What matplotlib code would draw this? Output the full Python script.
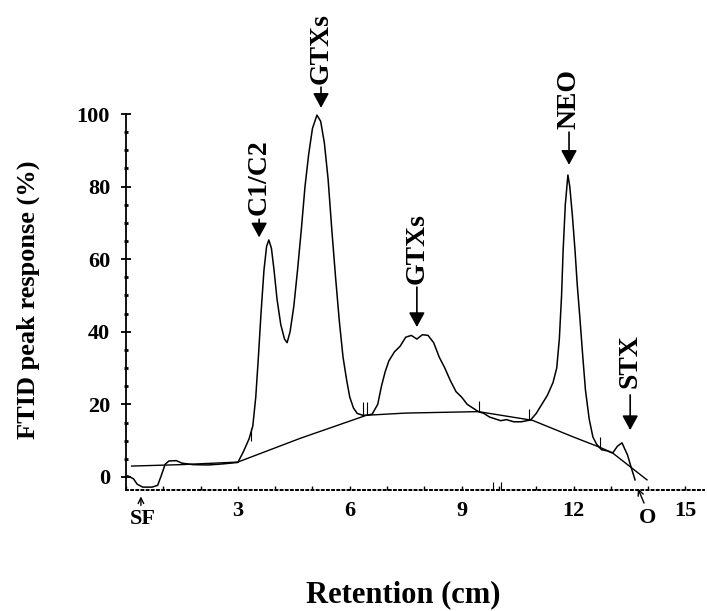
import matplotlib.pyplot as plt
from matplotlib.ticker import MultipleLocator

plt.rcParams['font.family'] = ['Liberation Serif', 'DejaVu Serif']
plt.rcParams['font.weight'] = 'bold'

# chromatogram trace (retention cm, % response)
trace_x = [0.05, 0.2, 0.3, 0.45, 0.7, 0.85, 0.95, 1.05, 1.15, 1.35, 1.5, 1.8,
           2.2, 2.6, 3.0, 3.15, 3.3, 3.4, 3.48, 3.55, 3.62, 3.7, 3.77, 3.83,
           3.9, 3.97, 4.05, 4.15, 4.25, 4.32, 4.4, 4.5, 4.6, 4.7, 4.8, 4.9,
           5.0, 5.12, 5.22, 5.32, 5.42, 5.52, 5.62, 5.72, 5.82, 5.92, 6.0,
           6.1, 6.2, 6.35, 6.45, 6.6, 6.75, 6.85, 6.95, 7.05, 7.2, 7.35, 7.5,
           7.65, 7.8, 7.95, 8.1, 8.25, 8.4, 8.55, 8.7, 8.85, 9.0, 9.15, 9.3,
           9.45, 9.6, 9.75, 9.9, 10.05, 10.2, 10.4, 10.6, 10.85, 11.0, 11.15,
           11.3, 11.45, 11.55, 11.62, 11.68, 11.72, 11.78, 11.85, 11.9, 11.97,
           12.04, 12.1, 12.17, 12.25, 12.32, 12.42, 12.52, 12.62, 12.75, 12.9,
           13.05, 13.18, 13.3, 13.45, 13.55, 13.65]
trace_y = [0.3, -0.5, -2.0, -2.8, -2.8, -2.3, 0.5, 3.5, 4.4, 4.5, 3.8, 3.4,
           3.3, 3.6, 4.0, 7.0, 10.5, 14, 22, 33, 45, 57, 63.5, 65.3,
           63, 57, 49, 42, 38, 37, 40, 47, 57, 68, 80, 89,
           96, 99.7, 98, 92, 82, 68, 55, 43, 33, 26.5, 22,
           19, 17.5, 17, 17, 17.3, 20, 25, 29, 32, 34.5, 36, 38.5,
           39, 38, 39.2, 39, 37, 33, 30, 26.5, 23.5, 22, 20, 19,
           18, 17.5, 16.5, 16.0, 15.5, 15.8, 15.2, 15.2, 15.7, 17.5, 20,
           22.5, 26, 30, 38, 50, 62, 75, 83.2, 80, 72,
           62.5, 53, 44, 33, 24, 16, 11, 9, 7.5, 7.2,
           6.6, 8.5, 9.4, 6, 2.5, -0.8]

# drawn baseline under the peaks
base_x = [0.15, 1.5, 3.0, 4.66, 6.45, 7.5, 9.45, 10.9, 12.0, 12.7, 13.05, 13.97]
base_y = [3.0, 3.4, 4.1, 10.6, 17.0, 17.6, 18.0, 15.6, 11.0, 8.2, 6.6, -0.8]

# integration marks: x, y from, y to
mark_x = [3.35, 6.35, 6.45, 9.46, 10.8, 12.7]
mark_lo = [10, 17, 17, 18, 15.7, 8]
mark_hi = [13.5, 20.6, 20.6, 21, 18.7, 11]

# peak labels: text, x, arrow tip, arrow tail, text bottom
peak_names = ['C1/C2', 'GTXs', 'GTXs', 'NEO', 'STX']
peak_x = [3.57, 5.23, 7.8, 11.88, 13.52]
peak_tip = [66.0, 101.7, 41.3, 86.0, 12.9]
peak_tail = [71.0, 107.4, 52.3, 95.0, 22.6]
peak_text = [72.2, 108.3, 53.2, 95.9, 24.5]

fig = plt.figure(figsize=(7.07, 6.11), dpi=100)
ax = fig.add_axes([0.1782, 0.198, 0.8176, 0.6154])

ax.plot(trace_x, trace_y, color='black', lw=1.1)
ax.plot(base_x, base_y, color='black', lw=1.0)
ax.vlines(mark_x, mark_lo, mark_hi, color='black', lw=0.8)
ax.vlines([9.85, 10.05], -3.6, -1.4, color='black', lw=0.8, clip_on=False)

ax.set_xlim(0, 15.5)
ax.set_ylim(-3.6, 100)

for s in ['top', 'right']:
    ax.spines[s].set_visible(False)
ax.spines['left'].set_linewidth(1.3)
ax.spines['bottom'].set_linestyle(':')
ax.spines['bottom'].set_linewidth(1.4)

ax.xaxis.set_minor_locator(MultipleLocator(1))
ax.set_xticks([3, 6, 9, 12, 15])
ax.yaxis.set_minor_locator(MultipleLocator(5))
ax.set_yticks([0, 20, 40, 60, 80, 100])

ax.tick_params(axis='x', which='both', direction='in', length=3, width=1.0,
               labelsize=16, pad=8)
ax.tick_params(axis='y', which='major', direction='inout', length=7, width=1.3,
               labelsize=16, pad=8)
ax.tick_params(axis='y', which='minor', direction='inout', length=2.5, width=2.0)

for lab in ax.get_xticklabels() + ax.get_yticklabels():
    lab.set_fontweight('bold')

arrow = dict(arrowstyle='-|>,head_length=0.55,head_width=0.3', color='black',
             lw=1.2, mutation_scale=16, shrinkA=0, shrinkB=0)
for name, x, tip, tail, tb in zip(peak_names, peak_x, peak_tip, peak_tail, peak_text):
    ax.annotate('', xy=(x, tip), xytext=(x, tail), arrowprops=arrow,
                annotation_clip=False)
    ax.text(x, tb, name, rotation=90, ha='center', va='bottom',
            fontsize=20, fontweight='bold', clip_on=False)

# start/end markers under the axis
ax.annotate('', xy=(0.4, -4.6), xytext=(0.4, -8.6),
            arrowprops=dict(arrowstyle='->', color='black', lw=1.0),
            annotation_clip=False)
ax.text(0.45, -8.9, 'SF', ha='center', va='top', fontsize=16, fontweight='bold')
ax.annotate('', xy=(13.7, -2.5), xytext=(13.92, -7.9),
            arrowprops=dict(arrowstyle='->', color='black', lw=1.0),
            annotation_clip=False)
ax.text(13.98, -8.6, 'O', ha='center', va='top', fontsize=16, fontweight='bold')

fig.text(0.04, 0.509, 'FTID peak response (%)', rotation=90, ha='center',
         va='center', fontsize=19, fontweight='bold')
fig.text(0.571, 0.026, 'Retention (cm)', ha='center', va='center',
         fontsize=22, fontweight='bold')

fig.savefig('out.png', dpi=100)
